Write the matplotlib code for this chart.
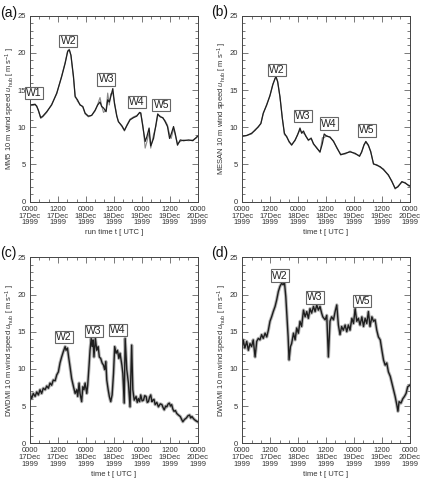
import matplotlib
matplotlib.use("Agg")
import matplotlib.pyplot as plt
from matplotlib.ticker import MultipleLocator, FixedLocator

plt.rcParams['font.family'] = ['Liberation Sans', 'DejaVu Sans']
plt.rcParams['mathtext.fontset'] = 'custom'
plt.rcParams['mathtext.rm'] = 'Liberation Sans'
plt.rcParams['mathtext.it'] = 'Liberation Sans:italic'

# ---------------- data (hours since 0000 UTC 17 Dec 1999) ----------------
tick_hours = [0, 12, 24, 36, 48, 60, 72]
tick_labels = ["0000\n17Dec\n1999", "1200\n17Dec\n1999", "0000\n18Dec\n1999",
               "1200\n18Dec\n1999", "0000\n19Dec\n1999", "1200\n19Dec\n1999",
               "0000\n20Dec\n1999"]

# (a) MM5
t_a = [0, 2.2, 2.9, 3.6, 4.6, 5.5, 7.2, 9.3, 11.5, 13.6,
       15.1, 16.2, 16.9, 17.6, 18.7, 19.4, 20.4, 21.5, 22.7, 23.7,
       25.1, 26.5, 28.0, 29.1, 30.1, 30.8, 31.6, 32.7, 33.4, 34.1,
       34.7, 35.6, 36.3, 37.3, 38.0, 39.5, 40.6, 41.6, 43.0, 44.5,
       45.9, 47.1, 47.6, 48.5, 49.5, 50.2, 51.2, 51.9, 53.1, 54.1,
       54.9, 56.0, 57.1, 58.1, 59.1, 60.0, 60.7, 61.7, 62.4, 63.4,
       64.6, 66.0, 68.2, 70.0, 71.7, 72]
mm5_1 = [13.0, 13.1, 12.8, 12.3, 11.3, 11.5, 12.1, 13.0, 14.6, 16.8,
         18.6, 20.2, 20.4, 19.7, 16.8, 14.1, 13.7, 13.0, 12.8, 11.9,
         11.5, 11.6, 12.3, 13.0, 13.4, 12.8, 12.6, 12.1, 13.7, 13.4,
         14.1, 15.2, 13.2, 11.5, 10.75, 10.2, 9.6, 10.2, 11.0, 11.3,
         11.5, 12.0, 11.9, 10.1, 8.1, 8.7, 9.9, 7.5, 8.5, 10.3,
         11.8, 11.4, 11.3, 10.75, 10.1, 8.5, 9.1, 10.1, 9.2, 7.6,
         8.3, 8.2, 8.3, 8.2, 8.7, 8.8]
mm5_2 = [12.9, 13.0, 12.9, 12.2, 11.2, 11.4, 12.0, 13.1, 14.5, 16.9,
         18.7, 20.3, 20.5, 19.6, 16.6, 14.3, 13.5, 13.1, 12.7, 11.8,
         11.4, 11.6, 12.2, 13.1, 14.0, 12.9, 12.0, 12.3, 14.6, 13.0,
         14.5, 14.6, 13.4, 11.6, 10.8, 10.1, 9.5, 10.3, 11.1, 11.4,
         11.6, 11.9, 12.0, 10.3, 7.2, 8.0, 9.3, 7.2, 9.0, 10.1,
         11.6, 11.5, 11.2, 10.9, 10.3, 9.0, 8.5, 9.8, 9.0, 7.8,
         8.1, 8.3, 8.2, 8.3, 8.6, 8.8]

# (b) MESAN
t_b = [0, 1.9, 4.0, 5.5, 6.9, 8.0, 9.0, 10.5, 11.9, 13.1,
       14.1, 14.5, 15.2, 16.2, 17.2, 18.1, 19.1, 20.1, 21.2, 22.7,
       23.8, 24.8, 25.5, 26.3, 27.3, 28.4, 29.6, 30.6, 32.0, 33.4,
       34.4, 35.2, 36.3, 37.7, 39.2, 40.6, 42.3, 44.2, 46.3, 48.5,
       50.4, 51.3, 52.3, 53.1, 54.2, 55.2, 56.4, 57.8, 59.3, 60.7,
       62.8, 64.3, 65.7, 66.9, 68.6, 70.0, 71.5, 72]
mesan_1 = [8.8, 8.9, 9.2, 9.6, 10.1, 10.5, 11.9, 13.0, 14.3, 15.7,
           16.6, 16.8, 16.1, 14.1, 11.2, 9.2, 8.7, 8.1, 7.6, 8.3,
           9.0, 9.9, 9.2, 9.5, 8.8, 8.3, 8.5, 7.8, 7.2, 6.7,
           7.8, 9.1, 8.8, 8.7, 8.1, 7.3, 6.3, 6.5, 6.7, 6.5,
           6.1, 6.7, 7.6, 8.1, 7.6, 6.7, 5.1, 4.9, 4.7, 4.3,
           3.6, 2.7, 1.8, 2.0, 2.7, 2.5, 2.2, 2.1]
mesan_2 = [8.8, 8.9, 9.1, 9.7, 10.0, 10.6, 11.8, 13.1, 14.2, 15.8,
           16.5, 16.7, 16.2, 14.0, 11.3, 9.0, 8.8, 8.0, 7.7, 8.2,
           9.1, 9.6, 9.4, 9.2, 8.9, 8.2, 8.6, 7.7, 7.3, 6.6,
           8.6, 8.6, 8.9, 8.6, 8.2, 7.2, 6.4, 6.4, 6.8, 6.4,
           6.2, 6.6, 7.7, 8.0, 7.5, 6.8, 5.0, 5.0, 4.6, 4.4,
           3.5, 2.8, 1.7, 2.1, 2.6, 2.6, 2.1, 2.2]

# (c) DWDMI station 1
t_c = [0, 0.7, 1.4, 2.2, 2.9, 3.6, 4.3, 5.0, 5.7, 6.5,
       7.2, 7.9, 8.6, 9.3, 10.0, 10.8, 11.5, 12.2, 12.9, 13.6,
       14.3, 15.1, 15.5, 16.1, 16.6, 17.2, 17.9, 18.7, 19.4, 20.1,
       20.5, 21.1, 21.5, 22.2, 22.7, 23.2, 23.7, 24.4, 24.8, 25.4,
       25.8, 26.3, 26.7, 27.1, 27.5, 28.1, 28.7, 29.3, 29.8, 30.4,
       31.0, 31.6, 32.1, 32.6, 33.0, 33.6, 34.1, 34.7, 35.3, 35.9,
       36.4, 37.0, 37.6, 38.2, 38.7, 39.5, 39.9, 40.5, 40.9, 41.6,
       42.3, 43.0, 43.7, 44.2, 44.8, 45.6, 46.1, 46.6, 47.1, 47.6,
       48.2, 48.8, 49.3, 49.9, 50.4, 50.9, 51.4, 51.9, 52.4, 52.8,
       53.3, 53.8, 54.5, 55.2, 56.0, 56.7, 57.2, 57.7, 58.3, 58.8,
       59.4, 59.9, 60.4, 60.9, 61.4, 61.9, 62.5, 63.1, 63.8, 64.6,
       65.2, 65.7, 66.4, 67.2, 67.9, 68.6, 69.1, 69.6, 70.3, 71.0,
       71.5, 72]
dwd_c = [6.7, 6.0, 6.7, 6.3, 6.9, 6.5, 7.2, 6.7, 7.4, 7.2,
         7.7, 7.4, 8.1, 7.8, 8.5, 8.4, 9.2, 9.6, 10.8, 11.6,
         12.3, 13.0, 12.5, 12.8, 11.6, 10.3, 8.7, 7.6, 6.7, 7.2,
         6.3, 8.1, 6.7, 5.6, 7.6, 7.2, 8.1, 6.7, 7.8, 10.5,
         12.5, 14.1, 13.0, 13.9, 11.6, 14.1, 12.5, 13.0, 11.6, 11.4,
         10.8, 10.5, 9.9, 11.0, 8.5, 7.2, 6.3, 5.6, 6.5, 9.4,
         13.0, 12.1, 12.5, 11.4, 12.1, 10.5, 9.4, 5.4, 14.1, 9.9,
         8.1, 4.9, 13.2, 7.2, 5.8, 6.3, 5.5, 6.0, 5.6, 6.5,
         5.7, 5.8, 6.4, 6.3, 5.5, 5.6, 6.2, 6.5, 5.6, 5.8,
         5.9, 5.2, 5.5, 4.9, 5.3, 5.2, 4.8, 4.5, 5.0, 4.9,
         5.3, 5.4, 5.0, 5.2, 4.6, 4.3, 4.4, 4.0, 3.8, 3.6,
         3.2, 2.9, 3.2, 3.4, 3.7, 3.8, 3.4, 3.6, 3.3, 3.1,
         3.0, 2.9]

# (d) DWDMI station 2
t_d = [0, 0.4, 1.1, 1.9, 2.6, 3.3, 4.0, 4.7, 5.5, 6.2,
       6.9, 7.6, 8.3, 9.0, 9.8, 10.5, 11.2, 11.9, 12.6, 13.3,
       14.1, 14.8, 15.5, 16.2, 16.9, 17.6, 18.1, 18.7, 19.2, 19.7,
       20.1, 20.7, 21.2, 22.0, 22.7, 23.4, 24.1, 24.8, 25.5, 26.3,
       27.0, 27.7, 28.4, 29.1, 29.8, 30.6, 31.3, 32.0, 32.7, 33.4,
       34.1, 34.6, 35.6, 36.3, 37.0, 37.7, 38.4, 39.2, 39.9, 40.6,
       41.3, 42.0, 42.7, 43.4, 44.2, 44.9, 45.6, 46.3, 47.1, 47.8,
       48.5, 49.2, 49.9, 50.6, 51.4, 52.1, 52.8, 53.5, 54.2, 54.9,
       55.7, 56.4, 57.1, 57.8, 58.5, 59.3, 60.0, 60.7, 61.4, 62.1,
       62.8, 63.6, 64.3, 65.0, 65.7, 66.4, 66.9, 67.4, 68.2, 69.0,
       69.7, 70.4, 71.1, 72]
dwd_d = [13.0, 13.9, 12.8, 13.7, 12.5, 13.4, 13.0, 13.9, 11.6, 13.7,
         14.1, 13.9, 14.6, 14.1, 14.8, 14.3, 15.2, 16.4, 17.0, 17.7,
         18.4, 19.3, 20.4, 21.1, 21.5, 21.3, 21.7, 19.7, 17.0, 14.3,
         11.2, 13.0, 13.4, 14.8, 13.9, 15.5, 14.8, 16.4, 15.7, 17.9,
         17.0, 17.7, 16.8, 18.1, 17.5, 18.4, 17.7, 18.6, 17.9, 18.4,
         17.5, 17.0, 16.6, 17.2, 11.6, 16.4, 17.0, 16.6, 17.7, 18.6,
         15.9, 14.6, 15.7, 15.2, 15.9, 15.0, 15.9, 15.2, 16.8, 16.1,
         18.1, 16.4, 16.8, 15.9, 17.0, 15.7, 16.8, 16.1, 17.7, 15.7,
         17.0, 16.4, 16.6, 15.2, 14.3, 13.9, 12.5, 11.2, 10.5, 10.8,
         9.6, 9.0, 8.1, 7.2, 6.3, 5.2, 4.3, 5.6, 5.4, 6.0,
         6.3, 6.7, 7.6, 7.8]

# event labels (hour, speed) per panel
labels_a = [("W1", 1.6, 14.6), ("W2", 16.5, 21.6), ("W3", 32.8, 16.45),
            ("W4", 46.0, 13.4), ("W5", 56.5, 13.0)]
labels_b = [("W2", 14.8, 17.7), ("W3", 26.0, 11.5), ("W4", 37.2, 10.5),
            ("W5", 53.4, 9.6)]
labels_c = [("W2", 14.7, 14.3), ("W3", 27.5, 15.1), ("W4", 37.9, 15.2)]
labels_d = [("W2", 16.1, 22.55), ("W3", 31.1, 19.6), ("W5", 51.6, 19.1)]

ylab_unit = r" 10 m wind speed $u_{\rm hub}$ [ m s$^{-1}$ ]"

# ---------------- figure ----------------
W, H = 422, 482
AXW, AXH = 167.5, 186
fig = plt.figure(figsize=(W / 100, H / 100), dpi=100)


def make_ax(left_px, bottom_px):
    return fig.add_axes([left_px / W, bottom_px / H, AXW / W, AXH / H])


ax_a = make_ax(30, 280.3)
ax_b = make_ax(242.3, 280.3)
ax_c = make_ax(30, 38.7)
ax_d = make_ax(242.3, 38.7)

dark = '#1e1e1e'
light = '#8a8a8a'

ax_a.plot(t_a, mm5_2, color=light, lw=0.8)
ax_a.plot(t_a, mm5_1, color=dark, lw=0.9)
ax_b.plot(t_b, mesan_2, color=light, lw=0.8)
ax_b.plot(t_b, mesan_1, color=dark, lw=0.9)
for ax, t, v in [(ax_c, t_c, dwd_c), (ax_d, t_d, dwd_d)]:
    ax.plot(t, v, color='#8f8f8f', lw=2.4, alpha=0.65)
    ax.plot(t, v, color=dark, lw=1.0)

setup = [
    (ax_a, "MM5" + ylab_unit, "run time t [ UTC ]", labels_a),
    (ax_b, "MESAN" + ylab_unit, "time t [ UTC ]", labels_b),
    (ax_c, "DWDMI" + ylab_unit, "time t [ UTC ]", labels_c),
    (ax_d, "DWDMI" + ylab_unit, "time t [ UTC ]", labels_d),
]
for ax, ylab, xlab, labs in setup:
    ax.set_xlim(0, 72)
    ax.set_ylim(0, 25)
    ax.xaxis.set_major_locator(FixedLocator(tick_hours))
    ax.set_xticklabels(tick_labels, fontsize=5.5, color='#333333', linespacing=0.95)
    ax.xaxis.set_minor_locator(MultipleLocator(4))
    ax.yaxis.set_major_locator(MultipleLocator(5))
    ax.yaxis.set_minor_locator(MultipleLocator(1))
    ax.tick_params(which='both', direction='in', top=True, right=True,
                   width=0.5, colors='#444444', labelcolor='#333333')
    ax.tick_params(which='major', length=4, labelsize=5.5, pad=3)
    ax.tick_params(which='minor', length=2)
    for s in ax.spines.values():
        s.set_linewidth(0.7)
        s.set_color('#444444')
    ylabel = ax.set_ylabel(ylab, fontsize=5.5, color='#333333')
    ylabel.set_va('center')
    ax.yaxis.set_label_coords(-19.5 / AXW, 0.5)
    ax.set_xlabel(xlab, fontsize=5.5, color='#333333', labelpad=2)
    for name, x, y in labs:
        ax.text(x, y, name, ha='center', va='center', fontsize=7.5,
                color='#222222', zorder=5, clip_on=False,
                bbox=dict(boxstyle='square,pad=0.12', fc='white',
                          ec='#666666', lw=0.8))

for txt, xp, yp in [("(a)", 0, 13), ("(b)", 211, 12), ("(c)", 0, 253), ("(d)", 211, 253)]:
    fig.text(xp / W, 1 - yp / H, txt, fontsize=10, ha='left', va='center',
             color='#111111')

fig.savefig("out.png", dpi=100)
